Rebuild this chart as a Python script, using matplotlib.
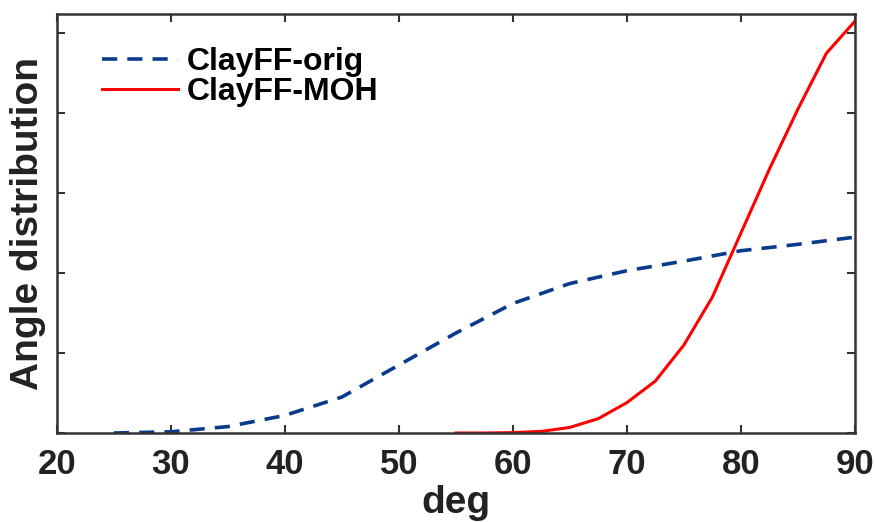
import numpy as np
import matplotlib
matplotlib.use('Agg')
import matplotlib.pyplot as plt

plt.rcParams['font.family'] = ['Liberation Sans', 'DejaVu Sans']
plt.rcParams['font.weight'] = 'bold'

# data
deg_orig = [25, 30, 35, 40, 45, 50, 55, 60, 65, 70, 75, 80, 85, 90]
dist_orig = [0.0, 0.015, 0.08, 0.22, 0.45, 0.85, 1.25, 1.62, 1.87, 2.03, 2.15, 2.28, 2.36, 2.45]

deg_moh = [55, 57.5, 60, 62.5, 65, 67.5, 70, 72.5, 75, 77.5, 80, 82.5, 85, 87.5, 90]
dist_moh = [0.0, 0.0, 0.005, 0.02, 0.07, 0.18, 0.38, 0.65, 1.1, 1.7, 2.5, 3.3, 4.05, 4.75, 5.15]

xticks = [20, 30, 40, 50, 60, 70, 80, 90]
yticks = [0, 1, 2, 3, 4, 5]

fig = plt.figure(figsize=(8.75, 5.22), dpi=100)
ax = fig.add_axes([0.065, 0.1705, 0.912, 0.8025])

ax.plot(deg_orig, dist_orig, color='#0a3a8c', lw=2.6, dashes=(4.2, 2.8), label='ClayFF-orig')
ax.plot(deg_moh, dist_moh, color='#ff0000', lw=2.2, label='ClayFF-MOH')

ax.set_xlim(20, 90)
ax.set_ylim(0, 5.24)
ax.set_xticks(xticks)
ax.set_yticks(yticks)
ax.set_yticklabels([])
ax.tick_params(direction='in', length=6, width=1.5, top=True, right=True,
               labelsize=25, colors='#333333', labelcolor='#222222', pad=11)
for s in ax.spines.values():
    s.set_linewidth(1.8)
    s.set_color('#333333')

ax.set_xlabel('deg', fontsize=28, fontweight='bold', color='#222222', labelpad=3)
ax.set_ylabel('Angle distribution', fontsize=28, fontweight='bold', color='#222222', labelpad=-3)

leg = ax.legend(loc='upper left', bbox_to_anchor=(0.02, 0.99), frameon=False,
                fontsize=23, handlelength=2.4, handletextpad=0.28, labelspacing=0.0)

fig.savefig('out.png', dpi=100)
